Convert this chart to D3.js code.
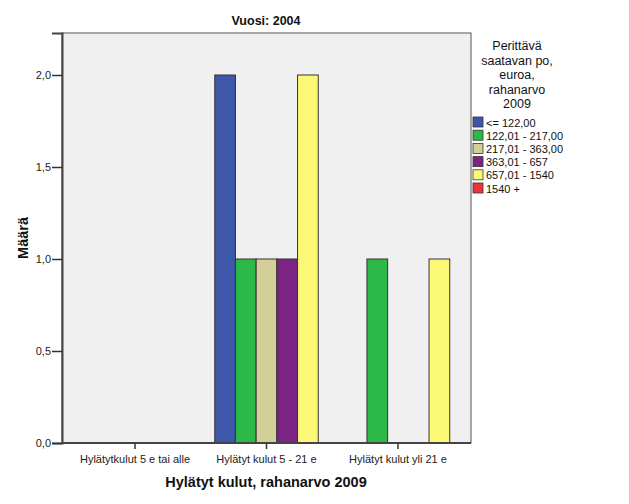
<!DOCTYPE html>
<html><head><meta charset="utf-8">
<script src="https://cdn.jsdelivr.net/npm/d3@7"></script>
<style>body{margin:0;background:#fff;} svg{display:block;font-family:Arial,"Liberation Sans",sans-serif;}</style>
</head><body>
<svg id="c" width="629" height="504"></svg>
<script>
const categories = ["Hylätytkulut 5 e tai alle", "Hylätyt kulut 5 - 21 e", "Hylätyt kulut yli 21 e"];
const seriesNames = ["<= 122,00", "122,01 - 217,00", "217,01 - 363,00", "363,01 - 657", "657,01 - 1540", "1540 +"];
const seriesColors = ["#3e57ab", "#2db84a", "#d4cf98", "#7c2484", "#fbf876", "#ee3338"];
// values per series across categories (null = no bar)
const sLe122 = [null, 2, null];
const s122_217 = [null, 1, 1];
const s217_363 = [null, 1, null];
const s363_657 = [null, 1, null];
const s657_1540 = [null, 2, 1];
const s1540 = [null, null, null];
const seriesValues = [sLe122, s122_217, s217_363, s363_657, s657_1540, s1540];
const yTicks = [0, 0.5, 1.0, 1.5, 2.0];
const title = "Vuosi: 2004";
const xTitle = "Hylätyt kulut, rahanarvo 2009";
const yTitle = "Määrä";
const legendTitle = ["Perittävä", "saatavan po,", "euroa,", "rahanarvo", "2009"];

const svg = d3.select("#c");
const L = 62, R = 471, T = 33, B = 443;

svg.append("rect").attr("x", L).attr("y", T).attr("width", R - L).attr("height", B - T)
  .attr("fill", "#f0f0f0").attr("stroke", "#555").attr("stroke-width", 1);

const x = d3.scaleBand().domain(categories).range([69.25, 463.75]).padding(0);
// slots only for series that appear in the data
const activeSeries = seriesNames.map((n, i) => i).filter(i => seriesValues[i].some(v => v != null));
const groupW = x.step() * 0.787;
const xg = d3.scaleBand().domain(activeSeries).range([0, groupW]);
const y = d3.scaleLinear().domain([0, 2.2283]).range([B, T]);

const bars = [];
categories.forEach((c, ci) => {
  const cx = x(c) + x.bandwidth() / 2;
  activeSeries.forEach(si => {
    const v = seriesValues[si][ci];
    if (v != null) bars.push({c, ci, si, v, x0: cx - groupW / 2 + xg(si)});
  });
});
svg.append("g").selectAll("rect").data(bars).join("rect")
  .attr("x", d => d.x0).attr("width", xg.bandwidth())
  .attr("y", d => y(d.v)).attr("height", d => y(0) - y(d.v))
  .attr("fill", d => seriesColors[d.si]).attr("stroke", "#333").attr("stroke-width", 1);

// axes
const yAxis = d3.axisLeft(y).tickValues(yTicks).tickSize(10).tickFormat(d => d3.format(".1f")(d).replace(".", ","));
const gy = svg.append("g").attr("transform", `translate(${L},0)`).call(yAxis);
gy.select(".domain").attr("stroke", "#444").attr("stroke-width", 2);
gy.selectAll(".tick line").attr("stroke", "#333").attr("stroke-width", 1.5);
gy.selectAll(".tick text").attr("font-size", 11).attr("fill", "#222").attr("x", -11).attr("dy", "0.35em");

const xAxis = d3.axisBottom(x).tickSize(6).tickSizeOuter(0);
const gx = svg.append("g").attr("transform", `translate(0,${B})`).call(xAxis);
gx.select(".domain").attr("d", `M${L},0H${R}`).attr("stroke", "#444").attr("stroke-width", 2);
gx.selectAll(".tick line").attr("stroke", "#333").attr("stroke-width", 1.5);
gx.selectAll(".tick text").attr("font-size", 11).attr("fill", "#222").attr("y", 12);

// titles
svg.append("text").attr("x", 266).attr("y", 25).attr("text-anchor", "middle")
  .attr("font-size", 12.5).attr("font-weight", "bold").attr("fill", "#111").text(title);
svg.append("text").attr("x", 266).attr("y", 487).attr("text-anchor", "middle")
  .attr("font-size", 14.5).attr("font-weight", "bold").attr("fill", "#111").text(xTitle);
svg.append("text").attr("transform", "translate(28,238) rotate(-90)").attr("text-anchor", "middle")
  .attr("font-size", 14.5).attr("font-weight", "bold").attr("fill", "#111").text(yTitle);

// legend
const lg = svg.append("g");
lg.selectAll("text.lt").data(legendTitle).join("text").attr("class", "lt")
  .attr("x", 517).attr("y", (d, i) => 50 + i * 14.5).attr("text-anchor", "middle")
  .attr("font-size", 12.5).attr("fill", "#111").text(d => d);
const items = lg.selectAll("g.it").data(seriesNames).join("g").attr("class", "it")
  .attr("transform", (d, i) => `translate(473,${117 + i * 13.2})`);
items.append("rect").attr("width", 10).attr("height", 10)
  .attr("fill", (d, i) => seriesColors[i]).attr("stroke", "#333").attr("stroke-width", 0.8);
items.append("text").attr("x", 13).attr("y", 9.5).attr("font-size", 11).attr("fill", "#111").text(d => d);
</script>
</body></html>
